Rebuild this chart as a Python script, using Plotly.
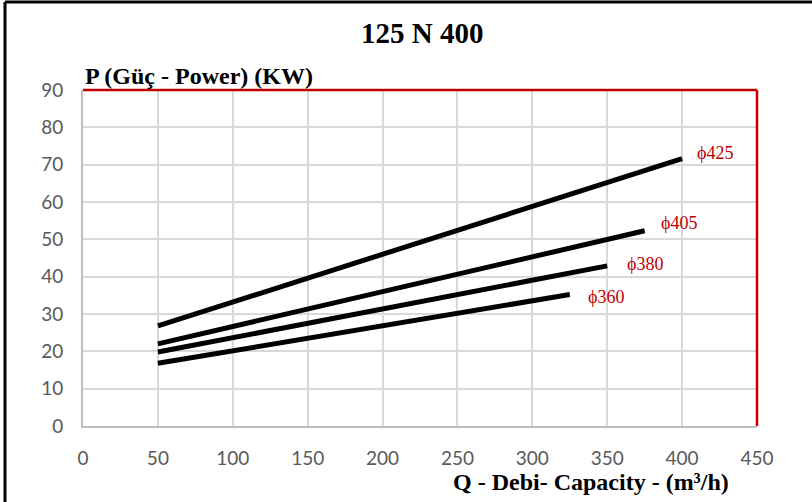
import plotly.graph_objects as go

# debi (m3/h) and power (kW) per impeller diameter
labels = ["ϕ425", "ϕ405", "ϕ380", "ϕ360"]
q_values = [[50, 400], [50, 375], [50, 350], [50, 325]]
p_values = [[26.8, 71.6], [22.0, 52.3], [19.8, 42.9], [16.8, 35.2]]
label_q = [422, 398, 375, 349]
label_p = [73.0, 54.3, 43.3, 34.5]

fig = go.Figure()

for q, p in zip(q_values, p_values):
    fig.add_trace(go.Scatter(x=q, y=p, mode="lines",
                             line=dict(color="black", width=5),
                             showlegend=False, hoverinfo="skip"))

# red labels next to each curve
for name, lq, lp in zip(labels, label_q, label_p):
    fig.add_annotation(x=lq, y=lp, text=name, showarrow=False,
                       font=dict(family="Liberation Serif", size=18, color="#C00000"))

fig.update_layout(
    width=812, height=502,
    margin=dict(l=83, r=55, t=90, b=76),
    plot_bgcolor="white", paper_bgcolor="white",
    title=dict(text="<b>125 N 400</b>", x=0.52, xanchor="center", y=1 - 33 / 502, yanchor="middle",
               font=dict(family="Liberation Serif", size=29, color="black")),
    xaxis=dict(range=[0, 450], dtick=50, tick0=0,
               showgrid=True, gridcolor="#D9D9D9", gridwidth=2,
               showline=True, linecolor="#BFBFBF", linewidth=2,
               zeroline=False, ticks="", ticklabelstandoff=14,
               tickfont=dict(family="Lato", size=19, color="#595959")),
    yaxis=dict(range=[0, 90], dtick=10, tick0=0,
               showgrid=True, gridcolor="#D9D9D9", gridwidth=2,
               showline=True, linecolor="#BFBFBF", linewidth=2,
               zeroline=False, ticks="", ticklabelstandoff=14,
               tickfont=dict(family="Lato", size=19, color="#595959")),
)

# axis titles (placed like the original)
fig.add_annotation(text="<b>P (Güç - Power) (KW)</b>", xref="paper", yref="paper",
                   x=0, y=1 + 14 / 336, xanchor="left", yanchor="middle", showarrow=False,
                   font=dict(family="Liberation Serif", size=24, color="black"))
fig.add_annotation(text="<b>Q - Debi- Capacity - (m³/h)</b>", xref="paper", yref="paper",
                   x=(591 - 83) / 674, y=-(482 - 426) / 336, xanchor="center", yanchor="middle",
                   showarrow=False,
                   font=dict(family="Liberation Serif", size=24, color="black"))

# red frame on top and right of plot area
fig.add_shape(type="line", xref="paper", yref="paper", x0=0, x1=1, y0=1, y1=1,
              line=dict(color="#C00000", width=2.5))
fig.add_shape(type="line", xref="paper", yref="paper", x0=1, x1=1, y0=0, y1=1,
              line=dict(color="#C00000", width=2.5))

# black outer frame (left and top)
fig.add_shape(type="line", xref="paper", yref="paper", x0=-78 / 674, x1=-78 / 674,
              y0=-80 / 336, y1=1 + 88 / 336, line=dict(color="black", width=3))
fig.add_shape(type="line", xref="paper", yref="paper", x0=-78 / 674, x1=1 + 60 / 674,
              y0=1 + 88 / 336, y1=1 + 88 / 336, line=dict(color="black", width=3))

fig.write_html("out.html", config={"displayModeBar": False},
               post_script="document.body.style.margin='0';")
